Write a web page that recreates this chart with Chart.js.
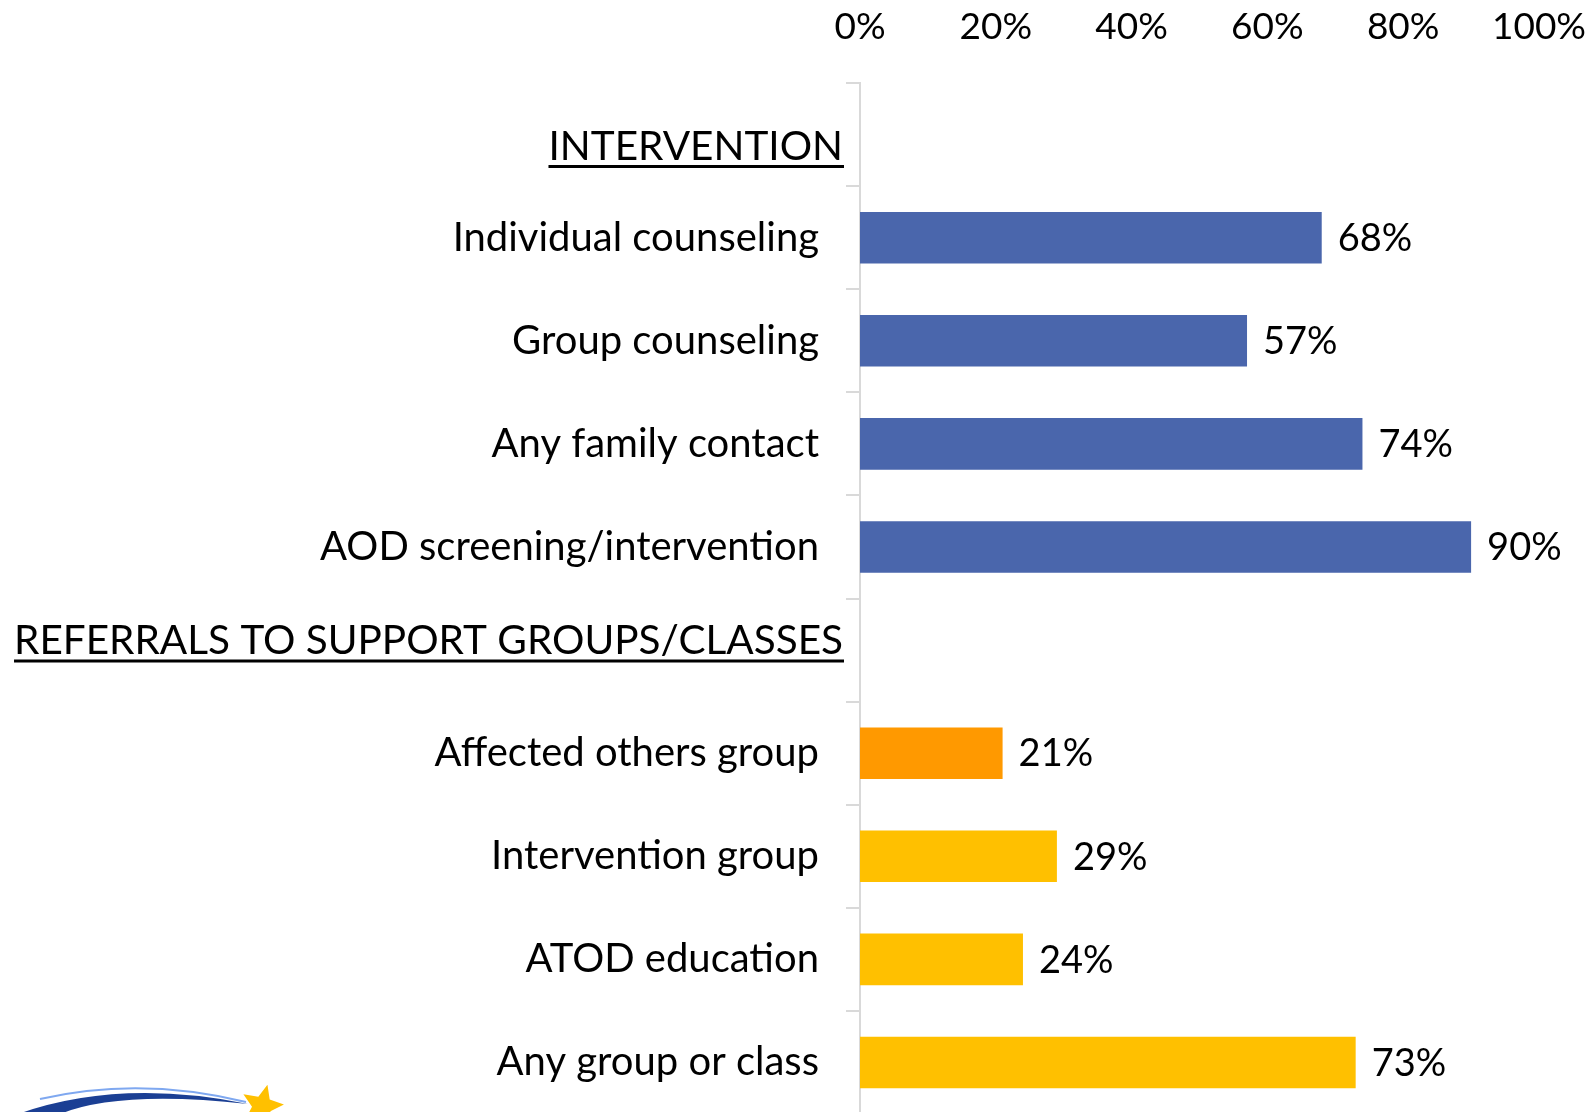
<!DOCTYPE html>
<html>
<head>
<meta charset="utf-8">
<script src="https://cdn.jsdelivr.net/npm/chart.js@4/dist/chart.umd.min.js"></script>
<style>
  html, body { margin: 0; padding: 0; background: #fff; overflow: hidden; }
  canvas { display: block; }
</style>
</head>
<body>
<canvas id="servicesChart" width="1595" height="1114"></canvas>
<script>
// rows of the chart, headers have no bar
const categories = [
    'INTERVENTION',
    'Individual counseling',
    'Group counseling',
    'Any family contact',
    'AOD screening/intervention',
    'REFERRALS TO SUPPORT GROUPS/CLASSES',
    'Affected others group',
    'Intervention group',
    'ATOD education',
    'Any group or class'
];
const headerRows = ['INTERVENTION', 'REFERRALS TO SUPPORT GROUPS/CLASSES'];
const percentValues = [null, 68, 57, 74, 90, null, 21, 29, 24, 73];
const axisTicks = [0, 20, 40, 60, 80, 100];

const BLUE = '#4A66AC';
const ORANGE = '#FF9900';
const YELLOW = '#FFC000';
const AXIS_GREY = '#D9D9D9';
const FONT = 'Lato, "Open Sans", sans-serif';

function barColor(label) {
    if (categories.indexOf(label) < 5) return BLUE;
    if (label === 'Affected others group') return ORANGE;
    return YELLOW;
}

// headers sit slightly off the row centre in the original
const headerShift = { 'INTERVENTION': 12, 'REFERRALS TO SUPPORT GROUPS/CLASSES': -9 };

const rowLabels = {
    id: 'rowLabels',
    afterDraw(chart) {
        const ctx = chart.ctx;
        const yScale = chart.scales.y;
        const left = chart.chartArea.left;
        ctx.save();
        ctx.fillStyle = '#000';
        ctx.strokeStyle = '#000';
        ctx.textAlign = 'right';
        ctx.textBaseline = 'middle';
        categories.forEach((label, i) => {
            const isHeader = headerRows.includes(label);
            const x = isHeader ? left - 17 : left - 41;
            const y = yScale.getPixelForValue(i) + (isHeader ? headerShift[label] : 0);
            ctx.font = (isHeader ? '40.5px ' : '40px ') + FONT;
            ctx.fillText(label, x, y);
            if (isHeader) {
                const w = ctx.measureText(label).width;
                ctx.lineWidth = 3;
                ctx.beginPath();
                ctx.moveTo(x - w, y + 20);
                ctx.lineTo(x + 1, y + 20);
                ctx.stroke();
            }
        });

        // value labels right of each bar
        ctx.textAlign = 'left';
        ctx.font = '38px ' + FONT;
        const meta = chart.getDatasetMeta(0);
        meta.data.forEach((bar, i) => {
            const v = percentValues[i];
            if (v === null) return;
            ctx.fillText(v + '%', bar.x + 16, bar.y + 1);
        });
        ctx.restore();
    }
};

// partial logo cut off at the bottom-left corner
const cornerLogo = {
    id: 'cornerLogo',
    afterDraw(chart) {
        const ctx = chart.ctx;
        ctx.save();
        ctx.fillStyle = '#1B3F94';
        ctx.beginPath();
        ctx.moveTo(18, 1114);
        ctx.quadraticCurveTo(120, 1078, 248, 1104);
        ctx.quadraticCurveTo(120, 1090, 60, 1114);
        ctx.closePath();
        ctx.fill();
        ctx.strokeStyle = '#7FA8F0';
        ctx.lineWidth = 2;
        ctx.beginPath();
        ctx.moveTo(40, 1099);
        ctx.quadraticCurveTo(140, 1076, 246, 1102);
        ctx.stroke();

        ctx.fillStyle = '#FFC000';
        const cx = 262, cy = 1106, ro = 22, ri = 10;
        ctx.beginPath();
        for (let k = 0; k < 10; k++) {
            const r = k % 2 === 0 ? ro : ri;
            const a = -Math.PI / 2 + k * Math.PI / 5 + 0.25;
            ctx.lineTo(cx + r * Math.cos(a), cy + r * Math.sin(a));
        }
        ctx.closePath();
        ctx.fill();
        ctx.restore();
    }
};

const ctx = document.getElementById('servicesChart').getContext('2d');
new Chart(ctx, {
    type: 'bar',
    data: {
        labels: categories,
        datasets: [{
            data: percentValues,
            backgroundColor: categories.map(barColor),
            barPercentage: 0.5,
            categoryPercentage: 1.0
        }]
    },
    options: {
        indexAxis: 'y',
        responsive: false,
        animation: false,
        layout: { padding: { top: 0, right: 56, bottom: 0, left: 0 } },
        plugins: {
            legend: { display: false },
            tooltip: { enabled: false }
        },
        scales: {
            x: {
                position: 'top',
                min: 0,
                max: 100,
                afterBuildTicks: scale => {
                    scale.ticks = axisTicks.map(v => ({ value: v }));
                },
                afterFit: scale => {
                    scale.height = 83;
                    scale.paddingLeft = 0;
                    scale.paddingRight = 0;
                },
                grid: { display: false, drawTicks: false },
                border: { display: false },
                ticks: {
                    color: '#000',
                    padding: 34,
                    maxRotation: 0,
                    font: { family: FONT, size: 37 },
                    callback: v => v + '%'
                }
            },
            y: {
                afterFit: scale => { scale.width = 860; },
                grid: {
                    drawOnChartArea: false,
                    color: AXIS_GREY,
                    lineWidth: 2,
                    tickLength: 14,
                    offset: true
                },
                border: { color: AXIS_GREY, width: 2 },
                ticks: { display: false }
            }
        }
    },
    plugins: [rowLabels, cornerLogo]
});
</script>
</body>
</html>
